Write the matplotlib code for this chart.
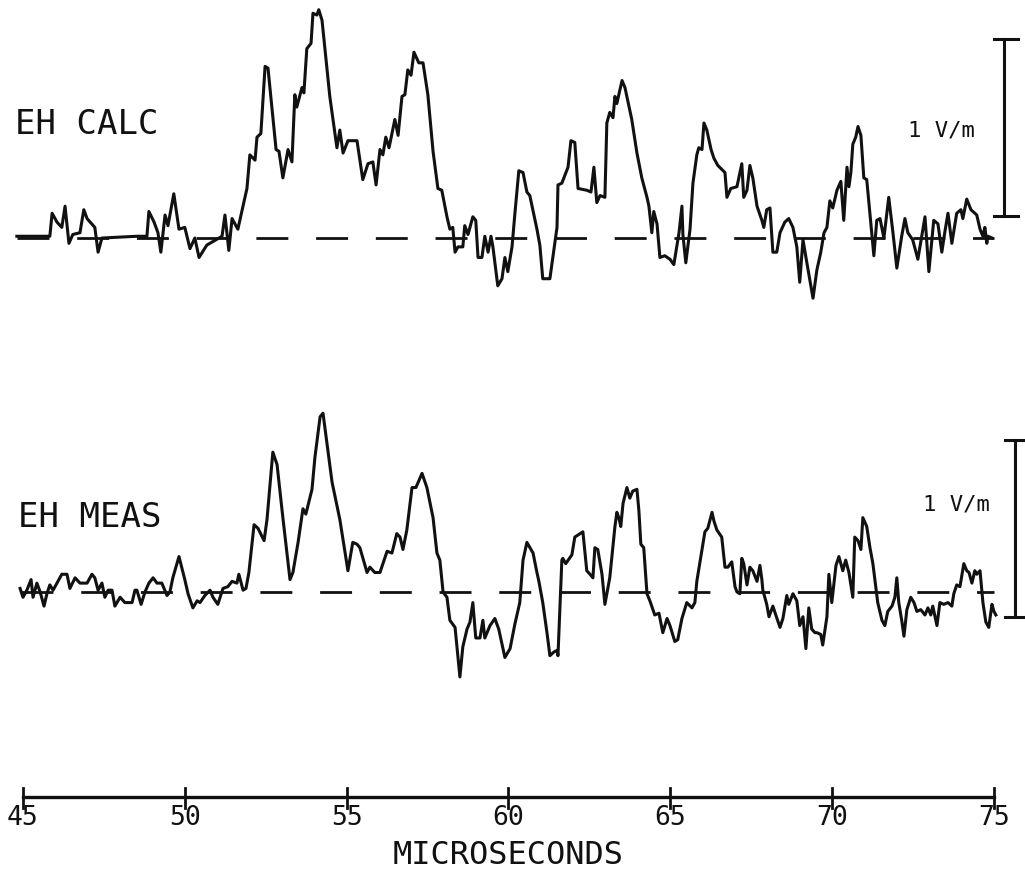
import numpy as np
import matplotlib.pyplot as plt

plt.rcParams['lines.scale_dashes'] = False

# horizontal electric field, time in microseconds, field in V/m
eh_calc = [
    (44.81, 0.01), (45.83, 0.01), (45.90, 0.14), (46.05, 0.09), (46.20, 0.06), (46.30, 0.18),
    (46.42, -0.03), (46.54, 0.02), (46.76, 0.03), (46.88, 0.16), (46.98, 0.11), (47.22, 0.06),
    (47.32, -0.08), (47.44, 0.00), (48.52, 0.01), (48.83, 0.01), (48.89, 0.15), (49.05, 0.09),
    (49.17, 0.03), (49.26, -0.08), (49.39, 0.13), (49.48, 0.07), (49.66, 0.25), (49.82, 0.05),
    (50.00, 0.06), (50.16, -0.06), (50.31, 0.00), (50.44, -0.11), (50.68, -0.04), (51.15, 0.01),
    (51.24, 0.13), (51.36, -0.07), (51.46, 0.11), (51.64, 0.05), (51.80, 0.18), (51.92, 0.28),
    (52.01, 0.47), (52.17, 0.44), (52.23, 0.57), (52.35, 0.59), (52.48, 0.97), (52.57, 0.96),
    (52.82, 0.50), (52.91, 0.49), (53.03, 0.34), (53.19, 0.50), (53.31, 0.43), (53.40, 0.81),
    (53.46, 0.74), (53.62, 0.85), (53.68, 0.82), (53.77, 1.07), (53.90, 1.10), (53.96, 1.27),
    (54.08, 1.26), (54.14, 1.29), (54.24, 1.23), (54.48, 0.80), (54.70, 0.51), (54.79, 0.61),
    (54.89, 0.48), (55.04, 0.55), (55.32, 0.55), (55.50, 0.33), (55.66, 0.42), (55.81, 0.43),
    (55.91, 0.30), (56.03, 0.50), (56.12, 0.47), (56.21, 0.57), (56.31, 0.51), (56.49, 0.67),
    (56.59, 0.58), (56.71, 0.80), (56.80, 0.81), (56.89, 0.95), (56.99, 0.92), (57.08, 1.05),
    (57.23, 0.99), (57.36, 0.99), (57.51, 0.81), (57.67, 0.49), (57.82, 0.28), (57.94, 0.27),
    (58.10, 0.12), (58.19, 0.05), (58.28, 0.06), (58.35, -0.08), (58.44, -0.05), (58.59, -0.05),
    (58.65, 0.07), (58.75, 0.02), (58.90, 0.12), (58.99, 0.10), (59.06, -0.11), (59.18, -0.11),
    (59.27, 0.01), (59.37, -0.08), (59.46, 0.01), (59.52, -0.05), (59.67, -0.27), (59.80, -0.23),
    (59.89, -0.11), (59.98, -0.19), (60.11, -0.05), (60.20, 0.14), (60.32, 0.38), (60.45, 0.37),
    (60.57, 0.26), (60.66, 0.24), (60.88, 0.05), (60.97, -0.04), (61.06, -0.23), (61.28, -0.23),
    (61.50, 0.06), (61.53, 0.30), (61.65, 0.31), (61.84, 0.40), (61.93, 0.55), (62.05, 0.54),
    (62.15, 0.28), (62.42, 0.27), (62.55, 0.26), (62.64, 0.40), (62.73, 0.20), (62.83, 0.24),
    (62.98, 0.23), (63.04, 0.65), (63.13, 0.71), (63.23, 0.68), (63.29, 0.80), (63.35, 0.76),
    (63.41, 0.81), (63.51, 0.89), (63.60, 0.85), (63.81, 0.67), (63.97, 0.48), (64.12, 0.34),
    (64.28, 0.23), (64.34, 0.18), (64.43, 0.03), (64.49, 0.15), (64.59, 0.08), (64.68, -0.11),
    (64.83, -0.10), (64.99, -0.12), (65.11, -0.15), (65.20, -0.05), (65.27, 0.03), (65.36, 0.18),
    (65.39, 0.02), (65.48, -0.14), (65.61, 0.05), (65.70, 0.31), (65.82, 0.47), (65.88, 0.51),
    (65.98, 0.50), (66.04, 0.65), (66.13, 0.61), (66.26, 0.50), (66.35, 0.45), (66.47, 0.41),
    (66.69, 0.37), (66.75, 0.23), (66.87, 0.28), (67.06, 0.29), (67.21, 0.42), (67.27, 0.23),
    (67.37, 0.27), (67.46, 0.41), (67.55, 0.34), (67.68, 0.18), (67.83, 0.10), (67.89, 0.06),
    (67.98, 0.16), (68.08, 0.17), (68.17, -0.08), (68.29, -0.08), (68.39, 0.03), (68.54, 0.09),
    (68.66, 0.11), (68.79, 0.06), (68.91, -0.05), (69.00, -0.25), (69.10, -0.01), (69.22, -0.14),
    (69.41, -0.34), (69.53, -0.18), (69.65, -0.08), (69.75, 0.03), (69.84, 0.06), (69.93, 0.21),
    (70.02, 0.17), (70.15, 0.27), (70.27, 0.32), (70.36, 0.10), (70.46, 0.40), (70.52, 0.29),
    (70.58, 0.37), (70.64, 0.53), (70.73, 0.57), (70.80, 0.63), (70.89, 0.58), (70.98, 0.34),
    (71.07, 0.33), (71.29, -0.10), (71.38, 0.10), (71.48, 0.11), (71.60, 0.00), (71.75, 0.23),
    (71.88, 0.03), (72.00, -0.17), (72.15, 0.01), (72.25, 0.11), (72.34, 0.03), (72.49, -0.01),
    (72.65, -0.12), (72.87, 0.12), (72.99, -0.19), (73.14, 0.10), (73.27, 0.08), (73.39, -0.08),
    (73.48, 0.03), (73.58, 0.14), (73.70, -0.03), (73.85, 0.14), (73.98, 0.16), (74.04, 0.11),
    (74.16, 0.22), (74.29, 0.16), (74.47, 0.13), (74.57, 0.05), (74.66, 0.01), (74.72, 0.06),
    (74.78, -0.03), (74.81, 0.01), (74.94, 0.00),
]

eh_meas = [
    (44.91, 0.02), (45.00, -0.03), (45.12, 0.01), (45.25, 0.07), (45.31, -0.03), (45.43, 0.05),
    (45.53, 0.00), (45.65, -0.08), (45.74, -0.01), (45.83, 0.04), (45.93, 0.01), (46.05, 0.05),
    (46.20, 0.10), (46.36, 0.10), (46.45, 0.02), (46.61, 0.08), (46.76, 0.05), (46.98, 0.05),
    (47.13, 0.10), (47.22, 0.08), (47.32, 0.01), (47.44, 0.05), (47.53, -0.03), (47.63, 0.01),
    (47.75, 0.01), (47.84, -0.08), (48.00, -0.03), (48.15, -0.06), (48.37, -0.06), (48.46, 0.01),
    (48.52, 0.01), (48.65, -0.07), (48.77, 0.00), (48.89, 0.05), (49.02, 0.08), (49.14, 0.05),
    (49.29, 0.05), (49.45, -0.02), (49.54, 0.00), (49.63, 0.08), (49.82, 0.20), (50.00, 0.07),
    (50.10, -0.01), (50.25, -0.09), (50.38, -0.05), (50.47, -0.06), (50.62, -0.02), (50.78, 0.01),
    (50.87, -0.03), (51.02, -0.07), (51.18, 0.02), (51.33, 0.03), (51.46, 0.06), (51.61, 0.05),
    (51.67, 0.10), (51.80, 0.01), (51.89, 0.02), (51.98, 0.11), (52.14, 0.38), (52.26, 0.36),
    (52.45, 0.29), (52.54, 0.41), (52.72, 0.79), (52.85, 0.72), (53.03, 0.42), (53.25, 0.07),
    (53.34, 0.11), (53.50, 0.28), (53.65, 0.47), (53.74, 0.44), (53.93, 0.58), (54.02, 0.76),
    (54.18, 0.99), (54.27, 1.01), (54.55, 0.62), (54.79, 0.41), (55.04, 0.12), (55.19, 0.28),
    (55.32, 0.27), (55.41, 0.25), (55.63, 0.11), (55.72, 0.14), (55.87, 0.11), (56.03, 0.11),
    (56.25, 0.23), (56.40, 0.22), (56.55, 0.33), (56.65, 0.31), (56.74, 0.24), (56.86, 0.35),
    (57.02, 0.59), (57.14, 0.59), (57.33, 0.67), (57.48, 0.59), (57.67, 0.42), (57.79, 0.22),
    (57.88, 0.18), (57.98, 0.00), (58.10, -0.03), (58.19, -0.16), (58.35, -0.20), (58.50, -0.48),
    (58.59, -0.31), (58.72, -0.21), (58.81, -0.17), (58.90, -0.06), (58.99, -0.26), (59.12, -0.26),
    (59.21, -0.16), (59.27, -0.26), (59.43, -0.19), (59.58, -0.15), (59.70, -0.21), (59.89, -0.37),
    (60.05, -0.32), (60.20, -0.18), (60.35, -0.06), (60.45, 0.18), (60.57, 0.28), (60.76, 0.22),
    (60.88, 0.11), (60.94, 0.06), (61.06, -0.06), (61.19, -0.23), (61.28, -0.36), (61.40, -0.34),
    (61.50, -0.33), (61.53, -0.36), (61.65, 0.18), (61.68, 0.19), (61.77, 0.16), (61.96, 0.21),
    (62.05, 0.31), (62.30, 0.34), (62.42, 0.12), (62.52, 0.10), (62.61, 0.08), (62.67, 0.25),
    (62.76, 0.24), (62.89, 0.10), (62.98, -0.07), (63.13, 0.08), (63.29, 0.37), (63.35, 0.45),
    (63.41, 0.42), (63.47, 0.37), (63.54, 0.50), (63.66, 0.59), (63.75, 0.53), (63.84, 0.57),
    (63.97, 0.58), (64.03, 0.46), (64.09, 0.27), (64.18, 0.25), (64.28, -0.01), (64.37, -0.05),
    (64.52, -0.13), (64.65, -0.12), (64.77, -0.23), (64.90, -0.15), (64.99, -0.19), (65.14, -0.28),
    (65.23, -0.27), (65.36, -0.15), (65.51, -0.06), (65.67, -0.09), (65.76, -0.06), (65.82, 0.06),
    (65.98, 0.24), (66.07, 0.34), (66.16, 0.36), (66.29, 0.45), (66.35, 0.40), (66.44, 0.35),
    (66.59, 0.31), (66.69, 0.14), (66.78, 0.14), (66.90, 0.17), (67.00, 0.03), (67.06, 0.00),
    (67.15, -0.01), (67.21, 0.19), (67.27, 0.16), (67.37, 0.04), (67.46, 0.14), (67.55, 0.12),
    (67.68, 0.06), (67.77, 0.15), (67.83, 0.07), (67.86, 0.01), (67.98, -0.07), (68.05, -0.14),
    (68.17, -0.08), (68.26, -0.13), (68.39, -0.20), (68.48, -0.15), (68.60, -0.02), (68.66, -0.07),
    (68.79, -0.01), (68.91, -0.05), (69.00, -0.19), (69.10, -0.14), (69.19, -0.32), (69.28, -0.09),
    (69.37, -0.21), (69.47, -0.23), (69.53, -0.23), (69.65, -0.24), (69.71, -0.30), (69.84, -0.14),
    (69.90, 0.10), (69.99, -0.06), (70.12, 0.15), (70.21, 0.20), (70.33, 0.12), (70.42, 0.18),
    (70.52, 0.11), (70.64, -0.03), (70.70, 0.31), (70.80, 0.29), (70.89, 0.24), (70.95, 0.42),
    (71.07, 0.37), (71.17, 0.25), (71.26, 0.16), (71.41, -0.06), (71.54, -0.16), (71.63, -0.19),
    (71.72, -0.11), (71.85, -0.08), (71.94, -0.03), (72.00, 0.08), (72.06, -0.06), (72.15, -0.16),
    (72.22, -0.25), (72.31, -0.10), (72.43, -0.03), (72.53, -0.06), (72.62, -0.11), (72.74, -0.10),
    (72.87, -0.13), (72.96, -0.09), (73.05, -0.13), (73.11, -0.08), (73.24, -0.19), (73.33, -0.06),
    (73.45, -0.07), (73.58, -0.06), (73.70, -0.08), (73.76, -0.01), (73.85, 0.04), (73.95, 0.03),
    (74.07, 0.16), (74.16, 0.12), (74.23, 0.11), (74.32, 0.05), (74.41, 0.12), (74.47, 0.10),
    (74.57, 0.12), (74.66, -0.06), (74.75, -0.17), (74.84, -0.20), (74.94, -0.07), (75.00, -0.11),
    (75.06, -0.13),
]

x_ticks = [45, 50, 55, 60, 65, 70, 75]
x_tick_labels = ['45', '50', '55', '60', '65', '70', '75']
panel_labels = ['EH CALC', 'EH MEAS']
scale_label = '1 V/m'
x_label = 'MICROSECONDS'

# vertical offset of each trace on the page (V/m)
calc_base = 0.0
meas_base = -2.0
axis_y = -3.16

ink = '#111111'
mono = 'DejaVu Sans Mono'

fig = plt.figure(figsize=(10.25, 8.76), dpi=100)
ax = fig.add_axes([0, 0, 1, 1])
ax.set_xlim(44.29, 75.96)
ax.set_ylim(-3.605, 1.345)
ax.axis('off')

calc = np.array(eh_calc)
meas = np.array(eh_meas)

# zero lines
ax.plot([44.81, 75.0], [calc_base, calc_base], color=ink, lw=2.0,
        linestyle=(0, (23, 20)), solid_capstyle='butt')
ax.plot([44.94, 75.0], [meas_base, meas_base], color=ink, lw=2.0,
        linestyle=(0, (23, 20)), solid_capstyle='butt')

# traces
ax.plot(calc[:, 0], calc[:, 1] + calc_base, color=ink, lw=2.2, solid_joinstyle='round')
ax.plot(meas[:, 0], meas[:, 1] + meas_base, color=ink, lw=2.2, solid_joinstyle='round')

ax.text(44.75, calc_base + 0.64, panel_labels[0], family=mono, fontsize=24.5,
        ha='left', va='center', color=ink)
ax.text(44.85, meas_base + 0.42, panel_labels[1], family=mono, fontsize=24.5,
        ha='left', va='center', color=ink)

# 1 V/m scale bars
def scale_bar(xc, x0, x1, y0):
    ax.plot([xc, xc], [y0, y0 + 1.0], color=ink, lw=2.2)
    ax.plot([x0, x1], [y0, y0], color=ink, lw=2.2)
    ax.plot([x0, x1], [y0 + 1.0, y0 + 1.0], color=ink, lw=2.2)

scale_bar(75.31, 75.0, 75.74, calc_base + 0.124)
scale_bar(75.65, 75.34, 76.1, meas_base - 0.14)
ax.text(72.34, calc_base + 0.605, scale_label, family=mono, fontsize=16,
        ha='left', va='center', color=ink)
ax.text(72.80, meas_base + 0.497, scale_label, family=mono, fontsize=16,
        ha='left', va='center', color=ink)

# time axis
ax.plot([x_ticks[0], x_ticks[-1]], [axis_y, axis_y], color=ink, lw=2.4)
for xt, lab in zip(x_ticks, x_tick_labels):
    ax.plot([xt, xt], [axis_y + 0.05, axis_y - 0.06], color=ink, lw=2.0)
    ax.text(xt, axis_y - 0.12, lab, family=mono, fontsize=19,
            ha='center', va='center', color=ink)
ax.text(60.0, axis_y - 0.33, x_label, family=mono, fontsize=23,
        ha='center', va='center', color=ink)

fig.savefig('out.png', dpi=100, facecolor='white')
